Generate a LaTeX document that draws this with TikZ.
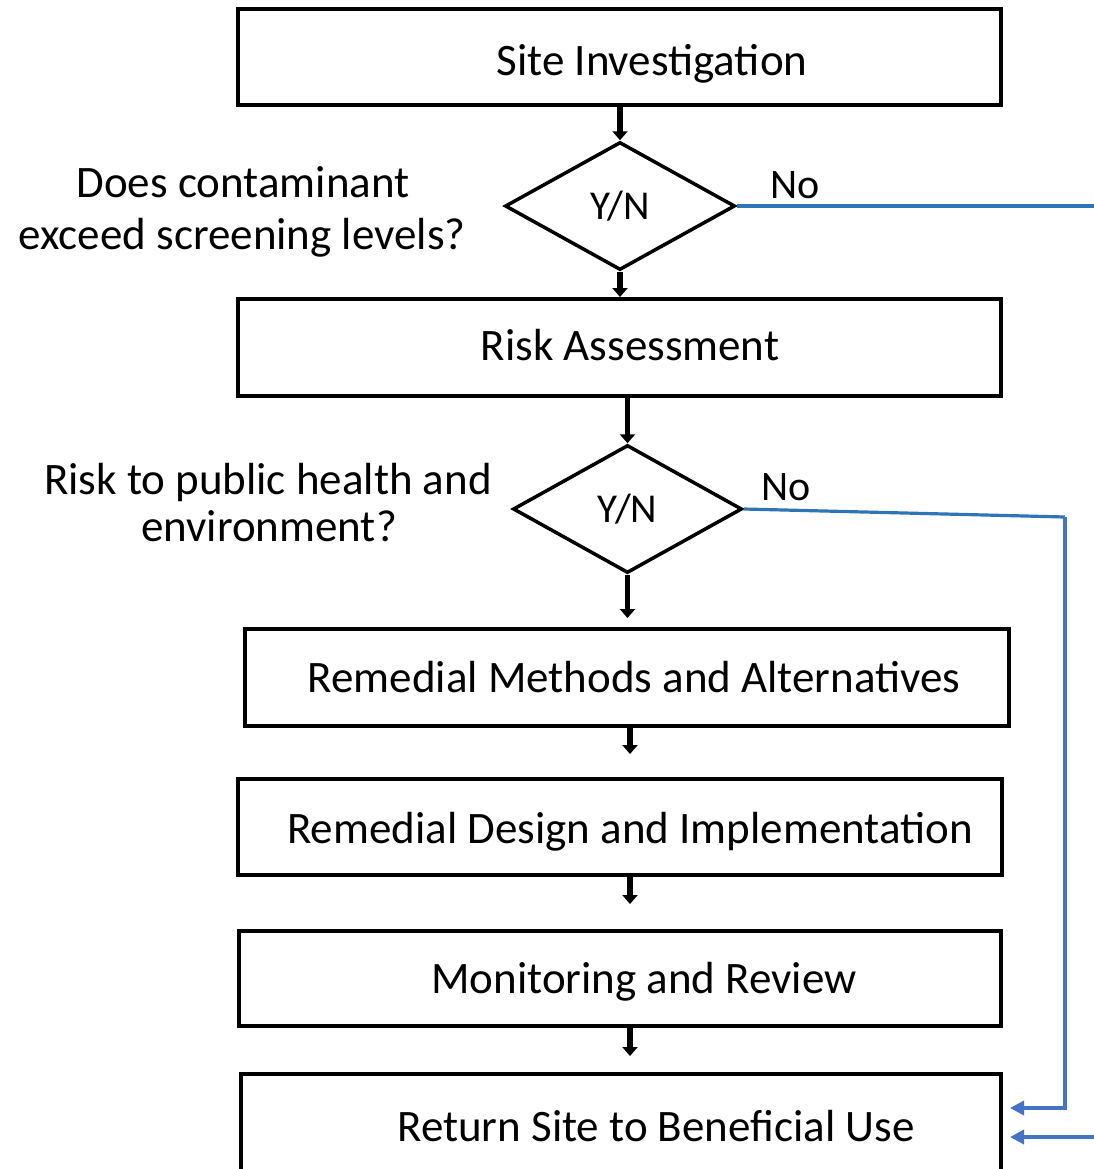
\documentclass[tikz,border=0pt]{standalone}
\usepackage{fontspec}
\setmainfont{Carlito}
\usetikzlibrary{arrows.meta,shapes.geometric,calc}
\definecolor{flowblue}{RGB}{46,117,182}
\definecolor{flowblueb}{RGB}{68,114,196}
\tikzset{
  box/.style={draw=black,line width=4bp,inner sep=0pt,minimum width=763bp,minimum height=96bp},
  boxtext/.style={anchor=base,inner sep=0pt,font=\fontsize{45bp}{54bp}\selectfont},
  sidetext/.style={anchor=base,inner sep=0pt,font=\fontsize{45bp}{54bp}\selectfont},
  decision/.style={draw=black,line width=3.5bp,shape=diamond,inner sep=0pt,minimum width=230bp,minimum height=128bp,font=\fontsize{41bp}{49bp}\selectfont},
  nolabel/.style={anchor=base,inner sep=0pt,font=\fontsize{42bp}{50bp}\selectfont},
  flowarrow/.style={line width=5.5bp,-{Triangle[length=9bp,width=15bp]}},
  backline/.style={draw=flowblue,line width=3.2bp},
  backarrow/.style={draw=flowblueb,line width=3.4bp,-{Triangle[length=14bp,width=14bp]}}
}
\begin{document}
\begin{tikzpicture}[x=1bp,y=-1bp]
\useasboundingbox (0,0) rectangle (1094,1169);
\clip (0,0) rectangle (1094,1169);
% boxes
\node[box] (b1) at (619.5,57) {};
\node[boxtext] (t1) at (652,75) {Site Investigation};
\node[box,minimum height=97bp] (b2) at (619.5,347.5) {};
\node[boxtext] (t2) at (630,360) {Risk Assessment};
\node[box,minimum width=764bp,minimum height=97bp] (b3) at (627,677.5) {};
\node[boxtext] (t3) at (634,692) {Remedial Methods and Alternatives};
\node[box,minimum width=764bp] (b4) at (620,827) {};
\node[boxtext] (t4) at (630,843) {Remedial Design and Implementation};
\node[box,minimum width=762bp,minimum height=95bp] (b5) at (620,978.5) {};
\node[boxtext] (t5) at (644,993) {Monitoring and Review};
\node[box,minimum width=760bp,minimum height=102bp] (b6) at (621,1125) {};
\node[boxtext] (t6) at (656,1141) {Return Site to Beneficial Use};
% decisions
\node[decision] (d1) at (620,206) {Y/N};
\node[decision,minimum width=229bp] (d2) at (627.5,509) {Y/N};
% side questions
\node[sidetext] (q1a) at (243,197) {Does contaminant};
\node[sidetext] (q1b) at (242,249) {exceed screening levels?};
\node[sidetext] (q2a) at (268,494) {Risk to public health and};
\node[sidetext] (q2b) at (269,541) {environment?};
% no labels
\node[nolabel] (n1) at (795,198) {No};
\node[nolabel] (n2) at (786,500) {No};
% main flow arrows
\draw[flowarrow] (d1.north |- b1.south) -- (d1.north);
\draw[flowarrow] (d1.south) -- (d1.south |- b2.north);
\draw[flowarrow] (d2.north |- b2.south) -- (d2.north);
\coordinate (a2) at ($(d2.south |- b3.north)+(0,-9)$);
\draw[flowarrow] (d2.south) -- (a2);
\coordinate (a3) at (630,754);
\draw[flowarrow] (a3 |- b3.south) -- (a3);
\coordinate (a4) at (630,904);
\draw[flowarrow] (a4 |- b4.south) -- (a4);
\coordinate (a5) at (630,1056);
\draw[flowarrow] (a5 |- b5.south) -- (a5);
% "No" return paths
\coordinate (r1) at (1100,206);
\draw[backline] (d1.east) -- (r1);
\coordinate (c1) at (1065,517);
\coordinate (c2) at (1065,1108);
\coordinate (e1) at (1010,1108);
\draw[backline] (d2.east) -- (c1);
\draw[backarrow] (c1) -- (c2) -- (e1);
\coordinate (r2) at (1100,1137);
\coordinate (e2) at (1010,1137);
\draw[backarrow] (r2) -- (e2);
\end{tikzpicture}
\end{document}
